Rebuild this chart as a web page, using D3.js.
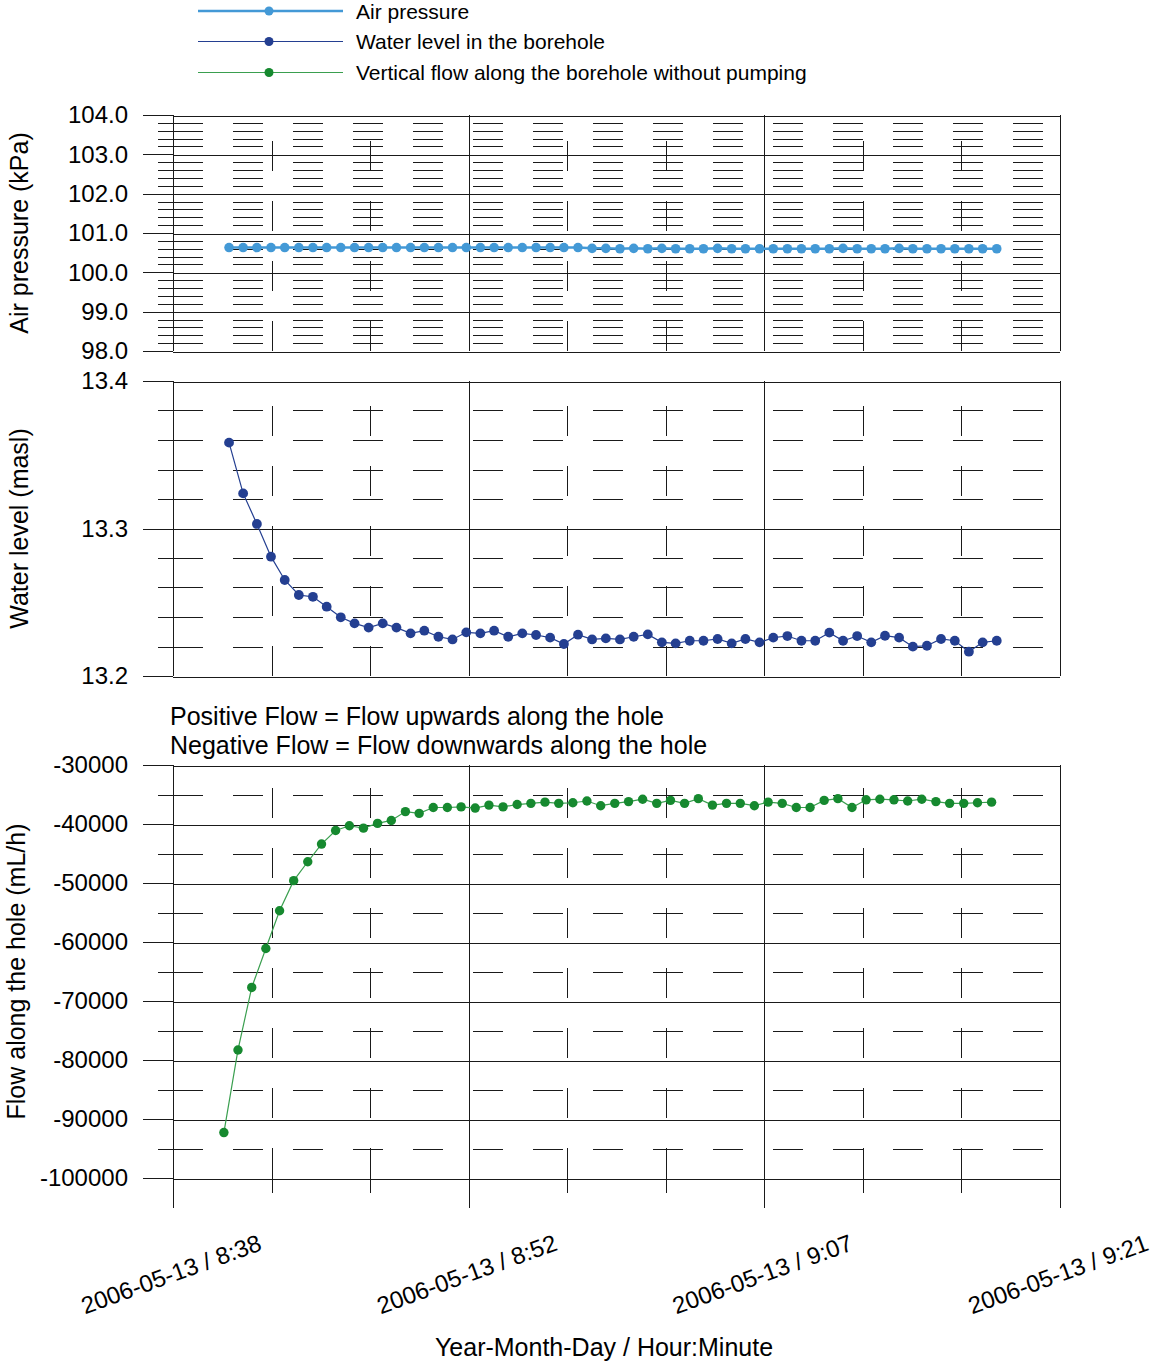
<!DOCTYPE html>
<html>
<head>
<meta charset="utf-8">
<script src="https://cdn.jsdelivr.net/npm/d3@7"></script>
<style>
  body { margin: 0; background: #fff; }
  svg { display: block; }
  text { font-family: "Liberation Sans", Arial, sans-serif; fill: #000; }
</style>
</head>
<body>
<svg id="chart" width="1152" height="1363"></svg>
<script>
// ---- Data -------------------------------------------------------------
// Sampling times of the pressure / water-level logger (2006-05-13)
const sampleTimes = [
  "08:40:43","08:41:24","08:42:04","08:42:45","08:43:25","08:44:06","08:44:47","08:45:27",
  "08:46:08","08:46:48","08:47:29","08:48:10","08:48:50","08:49:31","08:50:11","08:50:52",
  "08:51:33","08:52:13","08:52:54","08:53:34","08:54:15","08:54:56","08:55:36","08:56:17",
  "08:56:57","08:57:38","08:58:19","08:58:59","08:59:40","09:00:20","09:01:01","09:01:42",
  "09:02:22","09:03:03","09:03:43","09:04:24","09:05:05","09:05:45","09:06:26","09:07:06",
  "09:07:47","09:08:28","09:09:08","09:09:49","09:10:29","09:11:10","09:11:51","09:12:31",
  "09:13:12","09:13:52","09:14:33","09:15:14","09:15:54","09:16:35","09:17:15","09:17:56"
];
// Times of the flow estimates
const flowTimes = [
  "08:40:28","08:41:09","08:41:49","08:42:30","08:43:10","08:43:51","08:44:32","08:45:12",
  "08:45:53","08:46:33","08:47:14","08:47:55","08:48:35","08:49:16","08:49:56","08:50:37",
  "08:51:18","08:51:58","08:52:39","08:53:19","08:54:00","08:54:41","08:55:21","08:56:02",
  "08:56:42","08:57:23","08:58:04","08:58:44","08:59:25","09:00:05","09:00:46","09:01:27",
  "09:02:07","09:02:48","09:03:28","09:04:09","09:04:50","09:05:30","09:06:11","09:06:51",
  "09:07:32","09:08:13","09:08:53","09:09:34","09:10:14","09:10:55","09:11:36","09:12:16",
  "09:12:57","09:13:37","09:14:18","09:14:59","09:15:39","09:16:20","09:17:00","09:17:41"
];
// Air pressure, kPa
const airPressure = [
  100.63,100.63,100.63,100.63,100.63,100.63,100.63,100.63,
  100.63,100.63,100.63,100.63,100.63,100.63,100.63,100.63,
  100.63,100.63,100.63,100.63,100.63,100.63,100.63,100.63,
  100.63,100.63,100.61,100.61,100.60,100.61,100.60,100.61,
  100.60,100.60,100.60,100.61,100.60,100.60,100.60,100.60,
  100.60,100.60,100.60,100.60,100.61,100.60,100.60,100.60,
  100.61,100.60,100.60,100.60,100.60,100.60,100.60,100.60
];
// Water level in the borehole, metres above sea level
const waterLevel = [
  13.3582,13.3238,13.3031,13.2809,13.2651,13.2549,13.2537,13.2470,
  13.2398,13.2357,13.2328,13.2357,13.2328,13.2289,13.2307,13.2266,
  13.2248,13.2296,13.2289,13.2307,13.2266,13.2289,13.2278,13.2260,
  13.2217,13.2280,13.2248,13.2255,13.2248,13.2266,13.2282,13.2228,
  13.2221,13.2239,13.2239,13.2251,13.2221,13.2251,13.2228,13.2260,
  13.2271,13.2239,13.2239,13.2294,13.2239,13.2271,13.2228,13.2273,
  13.2260,13.2199,13.2205,13.2251,13.2239,13.2165,13.2228,13.2239
];
// Vertical flow along the borehole without pumping, mL/h
const verticalFlow = [
  -92300,-78300,-67700,-61100,-54700,-49600,-46400,-43400,
  -41100,-40300,-40700,-39900,-39400,-37900,-38200,-37200,
  -37200,-37100,-37300,-36800,-37100,-36700,-36500,-36300,
  -36500,-36400,-36100,-36900,-36500,-36200,-35800,-36500,
  -36000,-36500,-35700,-36800,-36500,-36500,-36900,-36300,
  -36500,-37200,-37200,-36000,-35700,-37200,-35900,-35800,
  -35900,-36100,-35800,-36200,-36500,-36500,-36400,-36300
];

// Axis ticks
const xTickTimes  = ["08:38:00","08:52:20","09:06:40","09:21:00"];
const xTickLabels = ["2006-05-13 / 8:38","2006-05-13 / 8:52","2006-05-13 / 9:07","2006-05-13 / 9:21"];
const airTicks   = [98, 99, 100, 101, 102, 103, 104];
const waterTicks = [13.2, 13.3, 13.4];
const flowTicks  = [-100000, -90000, -80000, -70000, -60000, -50000, -40000, -30000];

const seriesNames = ["Air pressure", "Water level in the borehole", "Vertical flow along the borehole without pumping"];
const seriesColors = { air: "#4399d6", water: "#243f91", flowDot: "#16892f", flowLine: "#3a9f4f" };
const flowNotes = ["Positive Flow = Flow upwards along the hole", "Negative Flow = Flow downwards along the hole"];
const yTitles = ["Air pressure (kPa)", "Water level (masl)", "Flow along the hole (mL/h)"];
const xTitle = "Year-Month-Day / Hour:Minute";

// ---- Setup --------------------------------------------------------------
const parseTime = d3.timeParse("%H:%M:%S");
const svg = d3.select("#chart");
const X0 = 173, X1 = 1060;
const GRID = "#1a1a1a";

const xMajor = xTickTimes.map(parseTime);
const x = d3.scaleTime().domain([xMajor[0], xMajor[xMajor.length - 1]]).range([X0, X1]);

// minor x positions: thirds between the labelled ticks
const xMinor = [];
for (let i = 0; i < xMajor.length - 1; i++) {
  const a = +xMajor[i], b = +xMajor[i + 1];
  for (let k = 1; k < 3; k++) xMinor.push(new Date(a + (b - a) * k / 3));
}

function minorValues(ticks, parts) {
  const out = [];
  for (let i = 0; i < ticks.length - 1; i++) {
    for (let k = 1; k < parts; k++) out.push(ticks[i] + (ticks[i + 1] - ticks[i]) * k / parts);
  }
  return out;
}

// plain hyphen-minus for negative tick labels
const fixed1 = d => d3.format(".1f")(d).replace("\u2212", "-");
const integer = d => String(Math.round(d));

function drawPanel(cfg) {
  const y = d3.scaleLinear().domain(cfg.domain).range([cfg.bottom, cfg.top]);
  const g = svg.append("g").attr("shape-rendering", "crispEdges");
  const tickExt = cfg.xTicks ? 30 : 0;

  // minor horizontal grid: short tick outside, dashed line inside
  minorValues(cfg.ticks, cfg.minorParts).forEach(v => {
    const yy = Math.round(y(v)) + 0.5;
    g.append("line").attr("x1", X0 - 15).attr("x2", X0).attr("y1", yy).attr("y2", yy)
      .attr("stroke", GRID).attr("stroke-width", 1);
    g.append("line").attr("x1", X0).attr("x2", X1).attr("y1", yy).attr("y2", yy)
      .attr("stroke", GRID).attr("stroke-width", 1).attr("stroke-dasharray", "30,30");
  });

  // minor vertical grid: dashed upwards from the bottom edge
  xMinor.forEach(t => {
    const xx = Math.round(x(t)) + 0.5;
    g.append("line").attr("x1", xx).attr("x2", xx).attr("y1", cfg.bottom).attr("y2", cfg.top)
      .attr("stroke", GRID).attr("stroke-width", 1).attr("stroke-dasharray", "30,30");
    if (cfg.xTicks) {
      g.append("line").attr("x1", xx).attr("x2", xx).attr("y1", cfg.bottom).attr("y2", cfg.bottom + 15)
        .attr("stroke", GRID).attr("stroke-width", 1);
    }
  });

  // major horizontal grid + y labels
  const yAxis = d3.axisLeft(y).tickValues(cfg.ticks).tickSize(30).tickPadding(15)
    .tickFormat(cfg.format);
  const ag = svg.append("g").attr("transform", `translate(${X0},0)`).call(yAxis);
  ag.select(".domain").remove();
  ag.selectAll(".tick line").attr("stroke", GRID).attr("shape-rendering", "crispEdges");
  ag.selectAll(".tick text").attr("font-size", 24).attr("font-family", '"Liberation Sans", Arial, sans-serif')
    .attr("fill", "#000");
  ag.selectAll(".tick").each(function () {
    d3.select(this).append("line").attr("x1", 0).attr("x2", X1 - X0).attr("y1", 0.5).attr("y2", 0.5)
      .attr("stroke", GRID).attr("shape-rendering", "crispEdges");
  });

  // major vertical grid
  xMajor.forEach(t => {
    const xx = Math.round(x(t)) + 0.5;
    g.append("line").attr("x1", xx).attr("x2", xx).attr("y1", cfg.top).attr("y2", cfg.bottom + tickExt)
      .attr("stroke", GRID).attr("stroke-width", 1);
  });

  // y title
  svg.append("text")
    .attr("transform", `translate(${cfg.titleX},${(cfg.top + cfg.bottom) / 2}) rotate(-90)`)
    .attr("text-anchor", "middle").attr("font-size", 25).text(cfg.title);

  return y;
}

function drawSeries(y, times, values, lineColor, dotColor, lineWidth, r) {
  const pts = times.map((t, i) => ({ t: parseTime(t), v: values[i] }));
  const line = d3.line().x(d => x(d.t)).y(d => y(d.v));
  svg.append("path").datum(pts).attr("d", line)
    .attr("fill", "none").attr("stroke", lineColor).attr("stroke-width", lineWidth);
  svg.append("g").selectAll("circle").data(pts).join("circle")
    .attr("cx", d => x(d.t)).attr("cy", d => y(d.v)).attr("r", r).attr("fill", dotColor);
}

// ---- Panels -----------------------------------------------------------
const yAir = drawPanel({
  domain: [98, 104], top: 115, bottom: 351, ticks: airTicks, minorParts: 5,
  format: fixed1, title: yTitles[0], titleX: 28
});
drawSeries(yAir, sampleTimes, airPressure, seriesColors.air, seriesColors.air, 2.5, 4.8);

const yWater = drawPanel({
  domain: [13.2, 13.4], top: 381, bottom: 676, ticks: waterTicks, minorParts: 5,
  format: fixed1, title: yTitles[1], titleX: 28
});
drawSeries(yWater, sampleTimes, waterLevel, seriesColors.water, seriesColors.water, 1.2, 4.9);

const yFlow = drawPanel({
  domain: [-100000, -30000], top: 765, bottom: 1178, ticks: flowTicks, minorParts: 2,
  format: integer, title: yTitles[2], titleX: 25, xTicks: true
});
drawSeries(yFlow, flowTimes, verticalFlow, seriesColors.flowLine, seriesColors.flowDot, 1.2, 4.7);

// flow sign convention note
flowNotes.forEach((s, i) => {
  svg.append("text").attr("x", 170).attr("y", 725 + i * 29).attr("font-size", 25).text(s);
});

// ---- X axis labels ----------------------------------------------------
xMajor.forEach((t, i) => {
  svg.append("text")
    .attr("transform", `translate(${x(t) + 1},1282) rotate(-20)`)
    .attr("text-anchor", "middle").attr("font-size", 24).text(xTickLabels[i]);
});
svg.append("text").attr("x", 604).attr("y", 1356).attr("text-anchor", "middle")
  .attr("font-size", 25).text(xTitle);

// ---- Legend -------------------------------------------------------------
const legendRows = [
  { name: seriesNames[0], line: seriesColors.air, dot: seriesColors.air, w: 2.5, y: 11 },
  { name: seriesNames[1], line: seriesColors.water, dot: seriesColors.water, w: 1, y: 41.5 },
  { name: seriesNames[2], line: seriesColors.flowLine, dot: seriesColors.flowDot, w: 1, y: 72.5 }
];
const lg = svg.append("g");
legendRows.forEach(r => {
  lg.append("line").attr("x1", 198).attr("x2", 343).attr("y1", r.y).attr("y2", r.y)
    .attr("stroke", r.line).attr("stroke-width", r.w);
  lg.append("circle").attr("cx", 269).attr("cy", r.y).attr("r", 4.5).attr("fill", r.dot);
  lg.append("text").attr("x", 356).attr("y", r.y + 7.5).attr("font-size", 21).text(r.name);
});
</script>
</body>
</html>
